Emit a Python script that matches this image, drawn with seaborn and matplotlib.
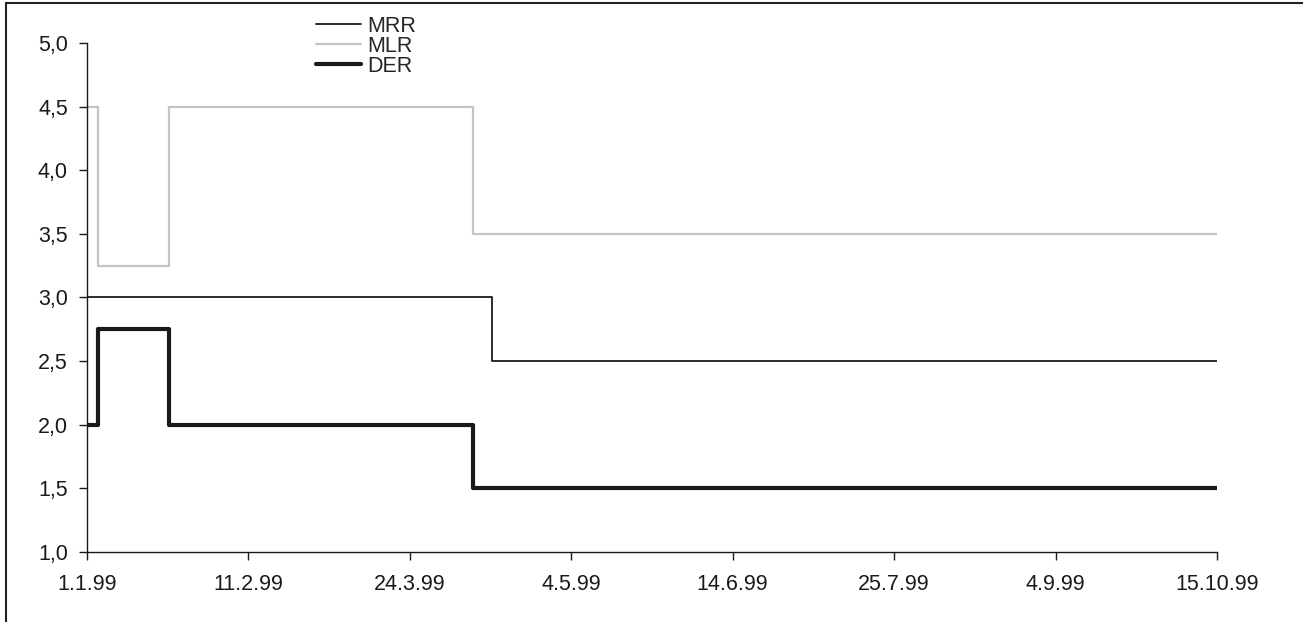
import matplotlib
matplotlib.use("Agg")
import matplotlib.pyplot as plt
import matplotlib.dates as mdates
from matplotlib.lines import Line2D
from matplotlib.ticker import FuncFormatter, FixedLocator
import pandas as pd
import seaborn as sns


# ─── Data: ECB key rates 1999 (step changes) ─────────────────────────────────
MRR_DATES = ["1999-01-01", "1999-04-14", "1999-10-15"]
MRR_RATES = [3.0, 2.5, 2.5]

MLR_DATES = ["1999-01-01", "1999-01-04", "1999-01-22", "1999-04-09", "1999-10-15"]
MLR_RATES = [4.5, 3.25, 4.5, 3.5, 3.5]

DER_DATES = ["1999-01-01", "1999-01-04", "1999-01-22", "1999-04-09", "1999-10-15"]
DER_RATES = [2.0, 2.75, 2.0, 1.5, 1.5]

SERIES_NAMES = ["MRR", "MLR", "DER"]
X_TICK_DATES = ["1999-01-01", "1999-02-11", "1999-03-24", "1999-05-04",
                "1999-06-14", "1999-07-25", "1999-09-04", "1999-10-15"]
Y_TICKS = [1.0, 1.5, 2.0, 2.5, 3.0, 3.5, 4.0, 4.5, 5.0]

STYLE = {
    "MRR": dict(color="#1a1a1a", lw=1.3),
    "MLR": dict(color="#c4c4c4", lw=1.6),
    "DER": dict(color="#1a1a1a", lw=3.0),
}

FONT_SIZE = 15.5


def make_df(name, dates, rates):
    return pd.DataFrame({"date": pd.to_datetime(dates), "rate": rates, "series": name})


# ─── Plot ─────────────────────────────────────────────────────────────────────
sns.set_style("white")
plt.rcParams["font.family"] = ["Liberation Sans", "DejaVu Sans"]

fig = plt.figure(figsize=(13.03, 6.22), dpi=100)
ax = fig.add_axes([0.0665, 0.1125, 0.8675, 0.8185])

frames = {
    "MRR": make_df("MRR", MRR_DATES, MRR_RATES),
    "MLR": make_df("MLR", MLR_DATES, MLR_RATES),
    "DER": make_df("DER", DER_DATES, DER_RATES),
}
for name in SERIES_NAMES:
    sns.lineplot(data=frames[name], x="date", y="rate", ax=ax,
                 drawstyle="steps-post", label=name, **STYLE[name])

x0 = mdates.date2num(pd.Timestamp(MRR_DATES[0]))
x1 = mdates.date2num(pd.Timestamp(MRR_DATES[-1]))
ax.set_xlim(x0, x1)
ax.set_ylim(1.0, 5.0)

ax.xaxis.set_major_locator(FixedLocator([mdates.date2num(pd.Timestamp(d)) for d in X_TICK_DATES]))
ax.xaxis.set_major_formatter(FuncFormatter(
    lambda v, _: (lambda d: f"{d.day}.{d.month}.{d.strftime('%y')}")(mdates.num2date(v))))
ax.set_yticks(Y_TICKS)
ax.yaxis.set_major_formatter(FuncFormatter(lambda v, _: f"{v:.1f}".replace(".", ",")))

ax.set_xlabel("")
ax.set_ylabel("")
for side in ("top", "right"):
    ax.spines[side].set_visible(False)
for side in ("left", "bottom"):
    ax.spines[side].set_color("#1a1a1a")
    ax.spines[side].set_linewidth(1.0)

ax.tick_params(axis="both", which="major", direction="out", length=5.5, width=1.0,
               color="#1a1a1a", labelsize=FONT_SIZE, labelcolor="#1a1a1a",
               left=True, bottom=True)
ax.tick_params(axis="y", pad=8)
ax.tick_params(axis="x", pad=10)

ax.legend(loc="upper left", bbox_to_anchor=(316 / 1303, 1 - 16 / 622),
          bbox_transform=fig.transFigure, frameon=False, fontsize=FONT_SIZE,
          handlelength=2.1, handletextpad=0.3, labelspacing=-0.05,
          borderaxespad=0, borderpad=0)

# scanned page frame: top and left edges
fig.add_artist(Line2D([6 / 1303, 1.0], [1 - 3 / 622, 1 - 3 / 622],
                      transform=fig.transFigure, color="#222222", lw=1.5))
fig.add_artist(Line2D([6 / 1303, 6 / 1303], [0.0, 1 - 3 / 622],
                      transform=fig.transFigure, color="#222222", lw=1.5))

fig.savefig("out.png", dpi=100)
